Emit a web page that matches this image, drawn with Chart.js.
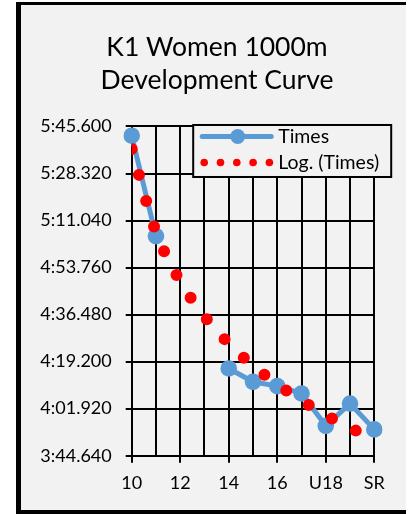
<!DOCTYPE html>
<html>
<head>
<meta charset="utf-8">
<script src="https://cdn.jsdelivr.net/npm/chart.js@4"></script>
<style>
  html, body { margin: 0; padding: 0; background: #fff; }
  #frame {
    position: absolute; left: 16px; top: 2px;
    width: 385px; height: 505px;
    border-left: 5px solid #000; border-top: 3px solid #000; border-bottom: 4px solid #000;
    background: #f2f2f2;
  }
  canvas { display: block; }
</style>
</head>
<body>
<div id="frame"><canvas id="devChart" width="385" height="505"></canvas></div>
<script>
// categories (age groups) and times in seconds
var categories = ['10', '11', '12', '13', '14', '15', '16', '17', 'U18', 'U23', 'SR'];
var times = [342.2, 305.3, null, null, 256.7, 251.8, 250.2, 247.5, 235.6, 243.8, 234.3];
// logarithmic trend line
var logTimes = [337.3, 306.9, 288.7, 275.9, 265.9, 257.7, 250.9, 244.9, 239.6, 234.9, 230.6];
// y axis: 3:44.640 .. 5:45.600 in steps of 17.28 s
var yMin = 224.64, yMax = 345.6, yStep = 17.28;

var FONT = 'Lato, "Open Sans", sans-serif';
var BLUE = '#5b9bd5';
var RED = '#ff0000';

function fmtTime(v) {
    var ms = Math.round(v * 1000);
    var m = Math.floor(ms / 60000);
    var s = (ms - m * 60000) / 1000;
    var str = s.toFixed(3);
    if (s < 10) str = '0' + str;
    return m + ':' + str;
}

// legend box drawn over the plot, like the Excel one
var boxLegend = {
    id: 'boxLegend',
    afterDraw: function (chart) {
        var ctx = chart.ctx;
        var a = chart.chartArea;
        var x0 = a.left + 61.5, y0 = a.top - 1.5, w = 198, h = 52;
        ctx.save();
        ctx.fillStyle = '#f2f2f2';
        ctx.fillRect(x0, y0, w, h);
        ctx.lineWidth = 2;
        ctx.strokeStyle = '#000';
        ctx.strokeRect(x0, y0, w, h);

        // Times entry
        var r1 = y0 + 11.5;
        ctx.strokeStyle = BLUE;
        ctx.lineWidth = 5;
        ctx.lineCap = 'round';
        ctx.beginPath();
        ctx.moveTo(x0 + 9, r1);
        ctx.lineTo(x0 + 78, r1);
        ctx.stroke();
        ctx.fillStyle = BLUE;
        ctx.beginPath();
        ctx.arc(x0 + 44.5, r1, 7.5, 0, Math.PI * 2);
        ctx.fill();

        // trend entry
        var r2 = y0 + 37.5;
        ctx.fillStyle = RED;
        for (var i = 0; i < 5; i++) {
            ctx.beginPath();
            ctx.arc(x0 + 11 + i * 16.3, r2, 3.8, 0, Math.PI * 2);
            ctx.fill();
        }

        ctx.fillStyle = '#000';
        ctx.font = '19.5px ' + FONT;
        ctx.textBaseline = 'middle';
        ctx.textAlign = 'left';
        ctx.fillText('Times', x0 + 85, r1);
        ctx.fillText('Log. (Times)', x0 + 85, r2);
        ctx.restore();
    }
};

var ctx = document.getElementById('devChart').getContext('2d');
var devChart = new Chart(ctx, {
    type: 'line',
    data: {
        labels: categories,
        datasets: [{
            label: 'Log. (Times)',
            data: logTimes,
            order: 0,
            borderColor: RED,
            borderWidth: 12,
            borderDash: [0, 26.8],
            borderCapStyle: 'round',
            pointRadius: 0,
            cubicInterpolationMode: 'monotone',
            fill: false,
            clip: 0
        }, {
            label: 'Times',
            data: times,
            order: 1,
            borderColor: BLUE,
            backgroundColor: BLUE,
            borderWidth: 5,
            pointRadius: 8.3,
            pointBorderWidth: 0,
            pointBackgroundColor: BLUE,
            tension: 0,
            spanGaps: false,
            fill: false
        }]
    },
    options: {
        responsive: false,
        animation: false,
        layout: { padding: { left: 7, right: 0, top: 0, bottom: 14.3 } },
        plugins: {
            legend: { display: false },
            tooltip: { enabled: false },
            title: {
                display: true,
                text: ['K1 Women 1000m', 'Development Curve'],
                color: '#000',
                font: { family: FONT, size: 26.5, weight: 'normal', lineHeight: 1.245 },
                padding: { top: 25.5, bottom: 30 }
            }
        },
        scales: {
            x: {
                offset: false,
                grid: {
                    color: '#000',
                    lineWidth: 2,
                    tickLength: 7,
                    tickColor: function (c) { return c.index % 2 === 0 ? '#000' : 'rgba(0,0,0,0)'; }
                },
                border: { color: '#000', width: 2 },
                ticks: {
                    autoSkip: false,
                    maxRotation: 0,
                    color: '#000',
                    padding: 10,
                    font: { family: FONT, size: 18 },
                    callback: function (v, i) { return i % 2 === 0 ? categories[i] : ''; }
                },
                afterFit: function (scale) { scale.height = 40; }
            },
            y: {
                min: yMin,
                max: yMax,
                grid: { color: '#000', lineWidth: 2, tickLength: 6 },
                border: { color: '#000', width: 2 },
                ticks: {
                    stepSize: yStep,
                    color: '#000',
                    padding: 14,
                    font: { family: FONT, size: 18 },
                    callback: function (v) { return fmtTime(v); }
                },
                afterFit: function (scale) { scale.width = 103.7; }
            },
            // empty right axis, only keeps the space right of the plot
            yRight: {
                position: 'right',
                display: true,
                grid: { display: false, drawTicks: false },
                border: { display: false },
                ticks: { display: false },
                afterFit: function (scale) { scale.width = 31.7; }
            }
        }
    },
    plugins: [boxLegend]
});
</script>
</body>
</html>
